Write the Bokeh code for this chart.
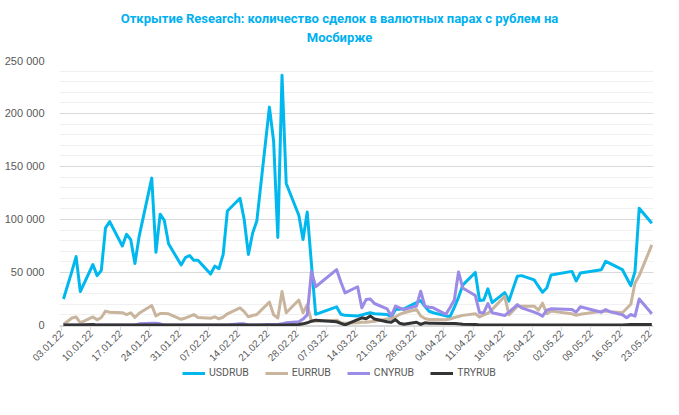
import math
import pandas as pd
from bokeh.plotting import figure
from bokeh.layouts import column
from bokeh.models import (Range1d, FixedTicker, Legend, LegendItem, ColumnDataSource, Label,
                          DatetimeTickFormatter)
from bokeh.embed import file_html
from bokeh.resources import INLINE

title_line1 = "Открытие Research: количество сделок в валютных парах с рублем на"
title_line2 = "Мосбирже"

dates = [
    "03.01.22", "04.01.22", "05.01.22", "06.01.22", "07.01.22", "10.01.22", "11.01.22", "12.01.22",
    "13.01.22", "14.01.22", "17.01.22", "18.01.22", "19.01.22", "20.01.22", "21.01.22", "24.01.22",
    "25.01.22", "26.01.22", "27.01.22", "28.01.22", "31.01.22",
    "01.02.22", "02.02.22", "03.02.22", "04.02.22", "07.02.22", "08.02.22", "09.02.22", "10.02.22",
    "11.02.22", "14.02.22", "15.02.22", "16.02.22", "17.02.22", "18.02.22", "21.02.22", "22.02.22",
    "23.02.22", "24.02.22", "25.02.22", "28.02.22",
    "01.03.22", "02.03.22", "03.03.22", "04.03.22", "09.03.22", "10.03.22", "11.03.22", "14.03.22",
    "15.03.22", "16.03.22", "17.03.22", "18.03.22", "21.03.22", "22.03.22", "23.03.22", "24.03.22",
    "25.03.22", "28.03.22", "29.03.22", "30.03.22", "31.03.22",
    "01.04.22", "04.04.22", "05.04.22", "06.04.22", "07.04.22", "08.04.22", "11.04.22", "12.04.22",
    "13.04.22", "14.04.22", "15.04.22", "18.04.22", "19.04.22", "20.04.22", "21.04.22", "22.04.22",
    "25.04.22", "26.04.22", "27.04.22", "28.04.22", "29.04.22",
    "04.05.22", "05.05.22", "06.05.22", "11.05.22", "12.05.22", "13.05.22", "16.05.22", "17.05.22",
    "18.05.22", "19.05.22", "20.05.22", "23.05.22",
]

usdrub = [
    25000, 38000, 51000, 65000, 32000, 57500, 47000, 52000, 92000, 98000, 75000, 86000, 81000, 58500,
    84000, 139000, 69000, 105000, 99000, 77000, 57000,
    64000, 66000, 61500, 61500, 48500, 56000, 53500, 67000, 108000, 120000, 100000, 67000, 87000,
    98500, 206000, 174000, 83000, 236000, 134000, 104000,
    81000, 107000, 58000, 10500, 17500, 10500, 9500, 9000, 10000, 11000, 12000, 11000, 10300, 8000,
    15000, 15300, 15700, 21500, 23500, 18000, 13400,
    12000, 9000, 8500, 17000, 26500, 38000, 50000, 23500, 24000, 34500, 21500, 31000, 23000, 35000,
    46500, 47000, 43000, 37000, 31300, 35400, 47500,
    51000, 42000, 49500, 52600, 60500, 58500, 52600, 45000, 37600, 51000, 110600, 96500,
]

eurrub = [
    1000, 4000, 7000, 8000, 2500, 8000, 5300, 7500, 13500, 12500, 12000, 10300, 11900, 7500, 11500,
    18800, 9000, 11300, 11300, 11000, 5800,
    7000, 8500, 10300, 7500, 6800, 8100, 6300, 7800, 11000, 16600, 13000, 8100, 9400, 10300, 22000,
    10000, 7000, 32000, 12000, 24000,
    12000, 19700, 4000, 4000, 5000, 2500, 2000, 2500, 3000, 3000, 3500, 4000, 6000, 6500, 8000,
    10500, 12000, 15000, 9000, 6500, 5600,
    5500, 5300, 6000, 7500, 8500, 9500, 11000, 8000, 10000, 11500, 15000, 27500, 10000, 14000,
    18200, 18200, 18200, 14400, 21000, 11000, 13500,
    11000, 9500, 10500, 13400, 13500, 13000, 12000, 16000, 20000, 40000, 47000, 76000,
]

cnyrub = [
    500, 500, 500, 500, 500, 500, 500, 500, 500, 500, 500, 500, 500, 500, 1500, 2000, 2000, 1500,
    500, 500, 500,
    500, 500, 500, 500, 500, 500, 500, 500, 500, 1500, 1500, 500, 500, 500, 1000, 1000, 800, 1500,
    2500, 3500,
    6000, 10000, 51000, 36500, 52600, 41000, 30700, 36500, 16600, 24400, 25000, 20700, 15700, 8800,
    18200, 16500, 15000, 18200, 32300, 18200, 17200,
    16600, 10500, 17000, 24000, 50500, 35400, 28200, 12000, 12000, 20700, 12000, 9400, 12500, 16000,
    19700, 16600, 12500, 11000, 8800, 14400, 15700,
    15000, 12500, 17600, 12500, 15000, 13000, 10000, 7200, 10300, 8800, 25000, 11000,
]

tryrub = [
    300, 300, 300, 300, 300, 800, 300, 300, 300, 300, 300, 300, 300, 300, 300, 300, 300, 300, 300,
    300, 300,
    300, 300, 300, 300, 300, 300, 300, 300, 300, 300, 300, 300, 300, 300, 300, 300, 300, 500, 500,
    800,
    1500, 2500, 4000, 5000, 3500, 2000, 500, 5500, 7200, 6300, 9000, 6000, 3500, 3000, 5500, 2000,
    1200, 3000, 1000, 2500, 2000,
    2000, 1900, 1900, 1900, 1500, 1200, 900, 400, 300, 300, 300, 300, 300, 300, 300, 300, 300, 300,
    300, 300, 300,
    400, 400, 400, 400, 400, 400, 400, 600, 800, 800, 800, 800,
]

series_names = ["USDRUB", "EURRUB", "CNYRUB", "TRYRUB"]
series_colors = ["#00B8EE", "#C9B59D", "#9B8AE6", "#333333"]

x_tick_labels = ["03.01.22", "10.01.22", "17.01.22", "24.01.22", "31.01.22", "07.02.22",
                 "14.02.22", "21.02.22", "28.02.22", "07.03.22", "14.03.22", "21.03.22",
                 "28.03.22", "04.04.22", "11.04.22", "18.04.22", "25.04.22", "02.05.22",
                 "09.05.22", "16.05.22", "23.05.22"]
y_ticks = [0, 50000, 100000, 150000, 200000, 250000]
y_tick_labels = ["0", "50 000", "100 000", "150 000", "200 000", "250 000"]

W = 663
LEFT, RIGHT = 59, 10          # plot frame borders (px); frames of the stacked parts line up
HEAD_H = 46                    # title strip
TOP = 14                       # gap under title strip
FRAME_H = 266
BOTTOM = 42                    # room for the rotated date labels
LEG_H = 26                     # legend strip
LEG_OVERLAP = 8

day = pd.Timedelta(days=1)
xs = pd.to_datetime(dates, format="%d.%m.%y") + 0.5 * day
tick_dt = pd.to_datetime(x_tick_labels, format="%d.%m.%y")
tick_ms = [int(t.value // 10**6) for t in tick_dt]

src = ColumnDataSource(dict(x=xs, USDRUB=usdrub, EURRUB=eurrub, CNYRUB=cnyrub, TRYRUB=tryrub))

x0 = (tick_dt[0] - 0.45 * day).value / 1e6
x1 = (tick_dt[-1] + 0.9 * day).value / 1e6

# ---------- title strip ----------
head = figure(width=W, height=HEAD_H, output_backend="svg", toolbar_location=None,
              x_range=Range1d(LEFT, W - RIGHT), y_range=Range1d(0, HEAD_H), min_border=0,
              x_axis_location=None, y_axis_location=None)
head.outline_line_color = None
head.grid.visible = False
for txt, ypos in ((title_line1, HEAD_H - 18), (title_line2, HEAD_H - 37)):
    head.add_layout(Label(x=339, y=ypos, text=txt, text_align="center", text_baseline="middle",
                          text_color="#00B0F0", text_font="Roboto", text_font_size="13px",
                          text_font_style="bold"))

# ---------- main chart ----------
p = figure(width=W, height=TOP + FRAME_H + BOTTOM, x_axis_type="datetime", output_backend="svg",
           toolbar_location=None, x_range=Range1d(x0, x1), y_range=Range1d(-1000, 250000),
           min_border_left=LEFT, min_border_right=RIGHT, min_border_top=TOP,
           min_border_bottom=BOTTOM)
p.outline_line_color = None
p.background_fill_color = "white"

p.xgrid.grid_line_color = None
p.ygrid.ticker = FixedTicker(ticks=y_ticks, minor_ticks=list(range(0, 250001, 10000)))
p.ygrid.grid_line_color = "#D9D9D9"
p.ygrid.minor_grid_line_color = "#F0F0F0"

p.yaxis.ticker = FixedTicker(ticks=y_ticks)
p.yaxis.major_label_overrides = {t: l for t, l in zip(y_ticks, y_tick_labels)}
p.yaxis.axis_line_color = None
p.yaxis.major_tick_line_color = None
p.yaxis.minor_tick_line_color = None
p.yaxis.major_label_text_color = "#595959"
p.yaxis.major_label_text_font = "Liberation Sans"
p.yaxis.major_label_text_font_size = "11px"
p.yaxis.major_label_standoff = 9

p.xaxis.ticker = FixedTicker(ticks=tick_ms)
p.xaxis.formatter = DatetimeTickFormatter(days="%d.%m.%y", months="%d.%m.%y", hours="%d.%m.%y",
                                          years="%d.%m.%y")
p.xaxis.major_label_overrides = {k: l for k, l in zip(tick_ms, x_tick_labels)}
p.xaxis.major_label_orientation = math.pi / 4
p.xaxis.axis_line_color = "#D9D9D9"
p.xaxis.major_tick_line_color = "#D9D9D9"
p.xaxis.major_tick_in = 0
p.xaxis.major_tick_out = 4
p.xaxis.minor_tick_line_color = None
p.xaxis.major_label_text_color = "#595959"
p.xaxis.major_label_text_font = "Liberation Sans"
p.xaxis.major_label_text_font_size = "10px"
p.xaxis.major_label_standoff = 1

for name, color in zip(series_names, series_colors):
    p.line("x", name, source=src, line_color=color, line_width=3, line_join="round")

# ---------- legend strip (its lines lie outside its own y range) ----------
lg = figure(width=W, height=LEG_H, output_backend="svg", toolbar_location=None,
            x_range=p.x_range, y_range=Range1d(0, LEG_H), min_border=0,
            min_border_left=LEFT, min_border_right=RIGHT,
            x_axis_location=None, y_axis_location=None)
lg.outline_line_color = None
lg.background_fill_color = None
lg.border_fill_color = None
lg.grid.visible = False
lg.styles = {"margin-top": f"-{LEG_OVERLAP}px"}

items = []
for name, color in zip(series_names, series_colors):
    r = lg.line("x", name, source=src, line_color=color, line_width=3)
    items.append(LegendItem(label=name, renderers=[r]))
legend = Legend(items=items, orientation="horizontal", location=(182 - LEFT, 7))
legend.label_text_font = "Roboto"
legend.label_text_font_size = "10.5px"
legend.label_text_color = "#595959"
legend.glyph_width = 23
legend.glyph_height = 12
legend.label_height = 12
legend.spacing = 16
legend.label_standoff = 4
legend.border_line_color = None
legend.background_fill_alpha = 0
legend.padding = 0
legend.margin = 0
lg.add_layout(legend)

layout = column(head, p, lg, spacing=0)
open("out.html", "w").write(file_html(layout, INLINE))
